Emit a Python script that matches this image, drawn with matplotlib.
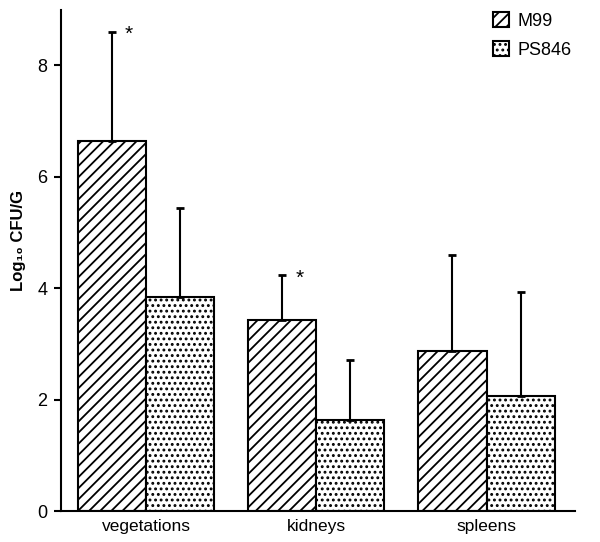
import numpy as np
import matplotlib
matplotlib.use('Agg')
import matplotlib.pyplot as plt

plt.rcParams['font.family'] = ['Liberation Sans', 'DejaVu Sans']
plt.rcParams['hatch.linewidth'] = 1.3

# data
organs = ['vegetations', 'kidneys', 'spleens']
m99 = [6.65, 3.43, 2.87]
m99_err = [1.95, 0.80, 1.72]
ps846 = [3.84, 1.63, 2.06]
ps846_err = [1.60, 1.08, 1.88]
stars = [True, True, False]

fig = plt.figure(figsize=(6.0, 5.42), dpi=100)
ax = fig.add_axes([0.1017, 0.057, 0.851, 0.925])

x = np.arange(len(organs))
w = 0.4
ekw = dict(ecolor='black', elinewidth=1.5, capsize=3, capthick=2)
ax.bar(x - w/2, m99, w, yerr=[np.zeros(3), m99_err], color='white', edgecolor='black',
       hatch='///', linewidth=1.5, error_kw=ekw, label='M99')
ax.bar(x + w/2, ps846, w, yerr=[np.zeros(3), ps846_err], color='white', edgecolor='black',
       hatch='...', linewidth=1.5, error_kw=ekw, label='PS846')

for i, s in enumerate(stars):
    if s:
        ax.text(x[i] - w/2 + 0.1, m99[i] + m99_err[i] - 0.05, '*', fontsize=15,
                ha='center', va='center')

ax.set_xlim(-0.5, 2.5)
ax.set_ylim(0, 9)
ax.set_yticks([0, 2, 4, 6, 8])
ax.set_xticks(x)
ax.set_xticklabels(organs, fontsize=12.5)
ax.tick_params(axis='x', length=0, pad=6)
ax.tick_params(axis='y', direction='out', length=5, width=1.5, labelsize=13, pad=5)
for side in ['top', 'right']:
    ax.spines[side].set_visible(False)
for side in ['left', 'bottom']:
    ax.spines[side].set_linewidth(1.5)
ax.spines['bottom'].set_bounds(-0.5, 2.52)
ax.set_ylabel('Log₁₀ CFU/G', fontsize=12, fontweight='bold')
ax.yaxis.set_label_coords(-0.068, 0.54)

fig.legend(loc='upper left', bbox_to_anchor=(0.822, 0.977), frameon=False, fontsize=13,
           handlelength=0.9, handleheight=0.9, handletextpad=0.45, labelspacing=0.62,
           borderpad=0, borderaxespad=0)

fig.savefig('out.png', dpi=100)
